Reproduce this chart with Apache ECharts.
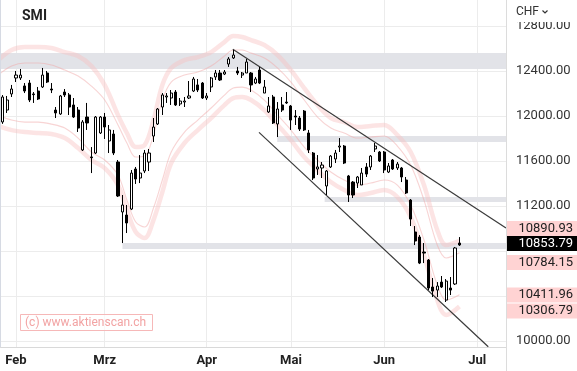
<!DOCTYPE html>
<html><head><meta charset="utf-8">
<script src="https://cdn.jsdelivr.net/npm/echarts@6/dist/echarts.min.js"></script>
<style>html,body{margin:0;padding:0;background:#fff}#c{width:577px;height:371px}</style>
</head><body><div id="c"></div><script>
const title = 'SMI';
const currency = 'CHF';
const watermark = '(c) www.aktienscan.ch';
// trading days (MM-DD, 2022) incl. a few future days on the right
const categories = [
 '01-27','01-28','01-31',
 '02-01','02-02','02-03','02-04','02-07','02-08','02-09','02-10','02-11','02-14','02-15','02-16','02-17','02-18','02-21','02-22','02-23','02-24','02-25','02-28',
 '03-01','03-02','03-03','03-04','03-07','03-08','03-09','03-10','03-11','03-14','03-15','03-16','03-17','03-18','03-21','03-22','03-23','03-24','03-25','03-28','03-29','03-30','03-31',
 '04-01','04-04','04-05','04-06','04-07','04-08','04-11','04-12','04-13','04-14','04-19','04-20','04-21','04-22','04-25','04-26','04-27','04-28','04-29',
 '05-02','05-03','05-04','05-05','05-06','05-09','05-10','05-11','05-12','05-13','05-16','05-17','05-18','05-19','05-20','05-23','05-24','05-25','05-27','05-30','05-31',
 '06-01','06-02','06-03','06-07','06-08','06-09','06-10','06-13','06-14','06-15','06-16','06-17','06-20','06-21','06-22','06-23','06-24','06-27','06-28','06-29','06-30',
 '07-01','07-04','07-05','07-06','07-07','07-08','07-11'
];
const monthStarts = ['02-01','03-01','04-01','05-02','06-01','07-01'];
const monthLabels = ['Feb','Mrz','Apr','Mai','Jun','Jul'];
const yGridValues = [10000,10400,10800,11200,11600,12000,12400,12800];
const yLabelValues = [10000,11200,11600,12000,12400,12800];
// [open, close, low, high]
const candles = [
 [11947,12169,11930,12186],[12053,12142,12027,12178],[12196,12240,12169,12276],[12338,12364,12302,12400],
 [12338,12364,12320,12418],[12267,12222,12204,12293],[12293,12142,12124,12320],[12196,12190,12116,12213],
 [12222,12151,12142,12258],[12258,12364,12249,12427],[12382,12302,12293,12400],[12240,12231,12204,12293],
 [12053,12027,11982,12080],[12018,12178,12010,12187],[12213,12187,12169,12240],[12187,12080,12009,12204],
 [12098,11991,11982,12160],[12053,11893,11858,12080],[11698,11947,11689,11964],[11991,11938,11876,12116],
 [11636,11630,11493,11724],[11671,11991,11662,12000],[11849,11991,11840,12000],[11991,11902,11796,12027],
 [11778,11876,11671,11920],[11840,11671,11653,11876],[11591,11289,11280,11609],[11147,11209,10871,11298],
 [11120,11049,10960,11209],[11173,11493,11164,11520],[11529,11440,11396,11547],[11449,11493,11404,11653],
 [11511,11671,11493,11698],[11591,11671,11511,11707],[11822,11902,11769,11982],[11929,12062,11920,12071],
 [12080,12187,12009,12204],[12169,12178,12116,12204],[12160,12204,12098,12231],[12213,12098,12089,12231],
 [12107,12133,12089,12160],[12124,12133,12080,12169],[12160,12178,12151,12311],[12222,12329,12213,12347],
 [12276,12231,12213,12329],[12293,12160,12151,12302],[12160,12178,12142,12204],[12258,12338,12213,12347],
 [12347,12382,12320,12409],[12382,12320,12311,12409],[12373,12391,12364,12409],[12462,12507,12436,12524],
 [12516,12542,12507,12587],[12400,12382,12364,12436],[12364,12382,12338,12391],[12382,12480,12382,12507],
 [12382,12276,12213,12391],[12293,12329,12284,12347],[12409,12293,12284,12436],[12204,12258,12204,12320],
 [12036,12089,12027,12169],[12169,11938,11929,12187],[11929,12062,11813,12124],[12098,12053,12036,12169],
 [12124,12116,12107,12213],[12089,11964,11876,12098],[12000,11991,11920,12053],[11982,11884,11867,12000],
 [12044,11876,11867,12053],[11849,11698,11671,11876],[11671,11449,11431,11680],[11529,11547,11476,11653],
 [11538,11564,11449,11591],[11378,11511,11298,11520],[11547,11644,11538,11653],[11618,11671,11582,11698],
 [11724,11733,11680,11804],[11733,11582,11573,11742],[11467,11298,11236,11476],[11413,11298,11271,11422],
 [11404,11458,11360,11467],[11387,11493,11387,11538],[11547,11484,11458,11582],[11547,11644,11520,11653],
 [11707,11733,11680,11760],[11680,11600,11591,11689],[11680,11520,11493,11689],[11502,11556,11493,11582],
 [11609,11529,11520,11618],[11538,11573,11520,11591],[11538,11458,11413,11547],[11431,11316,11307,11458],
 [11253,11084,11022,11262],[10969,10889,10853,11022],[10924,10693,10684,10942],[10791,10782,10693,10871],
 [10720,10471,10453,10729],[10480,10444,10391,10560],[10453,10489,10391,10524],[10524,10480,10471,10578],
 [10364,10533,10347,10551],[10471,10453,10409,10569],[10507,10827,10498,10836],[10871,10853.79,10845,10924]
];
// envelope bands sampled at trading-day index
const bandIdx = [-1,2,5,8,11,14,17,20,23,26,28,30,32,34,36,38,41,44,47,50,52,54,56,59,62,65,68,71,74,77,80,83,86,89,92,95,98,100,103];
const bandUpperOuter = [12497,12586,12613,12613,12604,12568,12533,12444,12275,12008,11849,11724,11742,11964,12275,12426,12497,12524,12568,12657,12710,12702,12675,12631,12542,12408,12248,12097,11982,11946,11902,11911,11920,11831,11680,11386,10986,10853,10890.93];
const bandUpperInner = [12364,12444,12471,12471,12453,12408,12355,12266,12142,11920,11760,11635,11644,11831,12142,12302,12364,12391,12444,12533,12586,12586,12559,12515,12426,12302,12142,11991,11893,11849,11804,11813,11822,11733,11564,11253,10853,10738,10784.15];
const bandLowerInner = [12008,11964,11946,11946,11928,11893,11804,11680,11609,11475,11253,11058,11013,11182,11431,11680,11857,11964,12071,12186,12248,12257,12231,12142,12008,11875,11724,11609,11502,11431,11386,11404,11431,11386,11209,10898,10498,10364,10411.96];
const bandLowerOuter = [11911,11875,11857,11849,11840,11804,11715,11609,11537,11386,11164,10969,10915,11075,11324,11582,11760,11875,11982,12097,12159,12168,12142,12053,11920,11786,11635,11520,11413,11342,11297,11315,11342,11280,11102,10764,10364,10231,10306.79];
// grey zones: [start index, low, high]
const zones = [[-0.5,12418,12560],[61.9,11769,11822],[72.6,11236,11280],[27,10818,10871]];
// trend lines: [[index, value],[index, value]]
const upperTrend = [[51.9,12593],[113.5,11004]];
const lowerTrend = [[57.8,11855],[109.5,9949]];
// right price tags
const tagValues = [10890.93,10853.79,10784.15,10411.96,10306.79];
const tagKinds = ['band','last','band','band','band'];

const N = categories.length;
const monthIdx = monthStarts.map(d => categories.indexOf(d));
const FONT = 'Roboto';

const chart = echarts.init(document.getElementById('c'), null, {renderer: 'canvas'});
const pair = (arr) => bandIdx.map((x, k) => [x, arr[k]]);

const option = {
  animation: false,
  grid: {left: 0.5, top: 0, width: 505.5, height: 347, containLabel: false},
  xAxis: [
    {type: 'category', data: categories, boundaryGap: true, show: false},
    {type: 'value', min: -0.5, max: N - 0.5, position: 'bottom',
     axisLine: {show: true, lineStyle: {color: '#d9d9d9', width: 1}},
     axisTick: {show: false, customValues: monthIdx},
     splitLine: {show: true, lineStyle: {color: '#ececec', width: 1}},
     axisLabel: {customValues: monthIdx, margin: 7, fontFamily: FONT, fontSize: 13, fontWeight: 'bold', color: '#222',
       formatter: v => monthLabels[monthIdx.indexOf(Math.round(v))] || ''}}
  ],
  yAxis: {type: 'value', position: 'right', min: 9947, max: 13031, scale: true,
    axisLine: {show: false}, axisTick: {show: false, customValues: yGridValues},
    splitLine: {show: true, lineStyle: {color: '#ececec', width: 1}},
    axisLabel: {customValues: yLabelValues, margin: 10, fontFamily: FONT, fontSize: 13, color: '#333',
      formatter: v => Number(v).toFixed(2)}},
  series: [
    {type: 'line', xAxisIndex: 1, z: 1, data: pair(bandLowerOuter), stack: 'band', smooth: 0.35, symbol: 'none',
     lineStyle: {opacity: 0}, silent: true},
    {type: 'line', xAxisIndex: 1, z: 1, data: bandIdx.map((x, k) => [x, bandUpperOuter[k] - bandLowerOuter[k]]), stack: 'band', smooth: 0.35, symbol: 'none',
     lineStyle: {opacity: 0}, areaStyle: {color: 'rgba(255,228,228,0.35)'}, silent: true},
    {type: 'line', xAxisIndex: 1, z: 2, data: [], silent: true,
     markArea: {silent: true, itemStyle: {color: '#e2e3e8'},
       data: zones.map(z => [{coord: [z[0], z[1]]}, {coord: [N - 0.5, z[2]]}])}},
    {type: 'line', xAxisIndex: 1, z: 3, data: pair(bandUpperOuter), smooth: 0.35, symbol: 'none', silent: true,
     lineStyle: {color: 'rgba(248,190,190,0.42)', width: 4.5}},
    {type: 'line', xAxisIndex: 1, z: 3, data: pair(bandLowerOuter), smooth: 0.35, symbol: 'none', silent: true,
     lineStyle: {color: 'rgba(248,190,190,0.42)', width: 4.5}},
    {type: 'line', xAxisIndex: 1, z: 3, data: pair(bandUpperInner), smooth: 0.35, symbol: 'none', silent: true,
     lineStyle: {color: 'rgba(242,170,170,0.5)', width: 1.1}},
    {type: 'line', xAxisIndex: 1, z: 3, data: pair(bandLowerInner), smooth: 0.35, symbol: 'none', silent: true,
     lineStyle: {color: 'rgba(242,170,170,0.5)', width: 1.1}},
    {type: 'line', xAxisIndex: 1, z: 4, data: upperTrend, symbol: 'none', silent: true,
     lineStyle: {color: '#3a3a3a', width: 1.2}},
    {type: 'line', xAxisIndex: 1, z: 4, data: lowerTrend, symbol: 'none', silent: true,
     lineStyle: {color: '#3a3a3a', width: 1.2}},
    {type: 'candlestick', xAxisIndex: 0, z: 5, data: candles, barWidth: 2.6, silent: true,
     itemStyle: {color: '#ffffff', color0: '#000000', borderColor: '#000000', borderColor0: '#000000', borderWidth: 1}}
  ]
};
chart.setOption(option);

// graphic overlays
const tagCenters = [228.5, 243.5, 262.5, 295, 311];
const g = [
  {type: 'line', shape: {x1: 506.5, y1: 0, x2: 506.5, y2: 371}, style: {stroke: '#dcdcdc', lineWidth: 1}, z: 10},
  {type: 'line', shape: {x1: 0.5, y1: 0, x2: 0.5, y2: 347}, style: {stroke: '#d6dae3', lineWidth: 1}, z: 10},
  {type: 'rect', shape: {x: 507, y: 0, width: 70, height: 22}, style: {fill: '#fff'}, z: 10},
  {type: 'text', x: 516, y: 12, style: {text: currency, font: '12px ' + FONT, fill: '#333', verticalAlign: 'middle'}, z: 11},
  {type: 'polyline', shape: {points: [[542.5, 10.5], [545, 13], [547.5, 10.5]]}, style: {stroke: '#333', lineWidth: 1.2, fill: null}, z: 11},
  {type: 'text', x: 22, y: 16.5, style: {text: title, font: 'bold 14px ' + FONT, fill: '#222', verticalAlign: 'middle'}, z: 11},
  {type: 'rect', shape: {x: 20.5, y: 314.5, width: 132, height: 16}, style: {fill: 'rgba(255,255,255,0.7)', stroke: '#f6b8b8', lineWidth: 1}, z: 11},
  {type: 'text', x: 25, y: 323, style: {text: watermark, font: '12px ' + FONT, fill: '#f2a3a3', verticalAlign: 'middle'}, z: 12}
];
tagValues.forEach((v, k) => {
  const cy = tagCenters[k];
  const last = tagKinds[k] === 'last';
  g.push({type: 'rect', shape: {x: 507, y: cy - 7.5, width: 70, height: 15}, style: {fill: last ? '#000' : '#ffd3d3'}, z: 12});
  g.push({type: 'text', x: 573, y: cy, style: {text: v.toFixed(2), font: '13px ' + FONT, fill: last ? '#fff' : '#222', align: 'right', verticalAlign: 'middle'}, z: 13});
});
chart.setOption({graphic: g});
</script></body></html>
